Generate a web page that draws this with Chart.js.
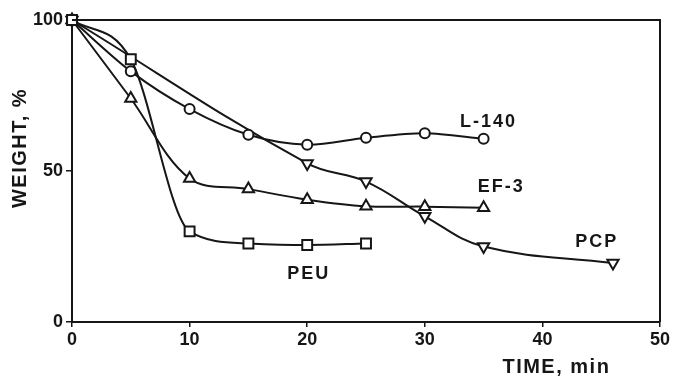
<!DOCTYPE html>
<html>
<head>
<meta charset="utf-8">
<script src="https://cdn.jsdelivr.net/npm/chart.js@4/dist/chart.umd.min.js"></script>
<style>
  html, body { margin: 0; padding: 0; background: #fff; }
  #wrap { width: 674px; height: 378px; }
</style>
</head>
<body>
<div id="wrap"><canvas id="chart"></canvas></div>
<script>
// Weight loss curves
const peuTime = [0, 5, 10, 15, 20, 25];
const peuWeight = [100, 87, 30, 26, 25.5, 26];

const l140Time = [0, 5, 10, 15, 20, 25, 30, 35];
const l140Weight = [100, 83, 70.5, 62, 58.7, 61, 62.5, 60.7];

const ef3Time = [0, 5, 10, 15, 20, 25, 30, 35];
const ef3Weight = [100, 74, 47.5, 44, 40.5, 38.3, 38.2, 37.8];

const pcpTime = [0, 20, 25, 30, 35, 46];
const pcpWeight = [100, 52.5, 46.5, 35, 25, 19.5];

const xTicks = [0, 10, 20, 30, 40, 50];
const yTicks = [0, 50, 100];

// Curve labels: [text, time, weight] (left edge / baseline)
const curveLabels = [
    ['L-140', 33, 64.6],
    ['EF-3', 34.5, 43],
    ['PCP', 42.8, 24.8],
    ['PEU', 18.3, 14.2]
];

const ink = '#161616';
const labelFont = 'bold 18px "Liberation Sans", Arial, sans-serif';

function toPoints(xs, ys) {
    return xs.map((x, i) => ({ x: x, y: ys[i] }));
}

function series(name, xs, ys, style, radius, rotation, smooth) {
    return {
        label: name,
        data: toPoints(xs, ys),
        borderColor: ink,
        borderWidth: 2,
        backgroundColor: '#fff',
        pointStyle: style,
        pointRadius: radius,
        pointRotation: rotation || 0,
        pointBorderWidth: 2,
        pointBorderColor: ink,
        pointBackgroundColor: '#fff',
        cubicInterpolationMode: smooth === 'monotone' ? 'monotone' : 'default',
        tension: smooth === 'monotone' ? 0 : smooth,
        clip: false,
        fill: false
    };
}

// Frame on top/right plus free text
const decorations = {
    id: 'decorations',
    afterDraw(chart) {
        const { ctx, chartArea, scales } = chart;
        ctx.save();
        ctx.strokeStyle = ink;
        ctx.lineWidth = 2;
        ctx.beginPath();
        ctx.moveTo(chartArea.left, chartArea.top);
        ctx.lineTo(chartArea.right, chartArea.top);
        ctx.lineTo(chartArea.right, chartArea.bottom);
        ctx.stroke();

        ctx.fillStyle = ink;
        ctx.font = labelFont;
        ctx.letterSpacing = '2px';
        ctx.textAlign = 'left';
        ctx.textBaseline = 'alphabetic';
        curveLabels.forEach(([text, t, w]) => {
            ctx.fillText(text, scales.x.getPixelForValue(t), scales.y.getPixelForValue(w));
        });

        // axis titles
        ctx.font = 'bold 20px "Liberation Sans", Arial, sans-serif';
        ctx.letterSpacing = '1.5px';
        ctx.fillText('TIME, min', scales.x.getPixelForValue(36.6), chartArea.bottom + 51);

        ctx.translate(20, 148);
        ctx.rotate(-Math.PI / 2);
        ctx.textAlign = 'center';
        ctx.textBaseline = 'middle';
        ctx.fillText('WEIGHT, %', 0, 0);
        ctx.restore();
    }
};

const tickFont = { family: '"Liberation Sans", Arial, sans-serif', size: 18, weight: 'bold' };

new Chart(document.getElementById('chart'), {
    type: 'line',
    data: {
        datasets: [
            series('PEU', peuTime, peuWeight, 'rect', 7, 0, 'monotone'),
            series('L-140', l140Time, l140Weight, 'circle', 5, 0, 0.3),
            series('EF-3', ef3Time, ef3Weight, 'triangle', 6.5, 0, 0.35),
            series('PCP', pcpTime, pcpWeight, 'triangle', 6.5, 180, 0.4)
        ]
    },
    options: {
        responsive: true,
        maintainAspectRatio: false,
        animation: false,
        layout: { padding: { top: 20, right: 14, left: 0, bottom: 0 } },
        plugins: {
            legend: { display: false },
            tooltip: { enabled: false }
        },
        scales: {
            x: {
                type: 'linear',
                min: 0,
                max: 50,
                afterBuildTicks: s => { s.ticks = xTicks.map(v => ({ value: v })); },
                afterFit: s => { s.height = 56; },
                ticks: { font: tickFont, color: ink, padding: 2, maxRotation: 0 },
                grid: { drawOnChartArea: false, drawTicks: true, tickLength: 5, color: ink, lineWidth: 1.5 },
                border: { color: ink, width: 2 }
            },
            y: {
                type: 'linear',
                min: 0,
                max: 100,
                afterBuildTicks: s => { s.ticks = yTicks.map(v => ({ value: v })); },
                afterFit: s => { s.width = 72; },
                ticks: { font: tickFont, color: ink, padding: 3 },
                grid: { drawOnChartArea: false, drawTicks: true, tickLength: 6, color: ink, lineWidth: 1.5 },
                border: { color: ink, width: 2 }
            }
        }
    },
    plugins: [decorations]
});
</script>
</body>
</html>
